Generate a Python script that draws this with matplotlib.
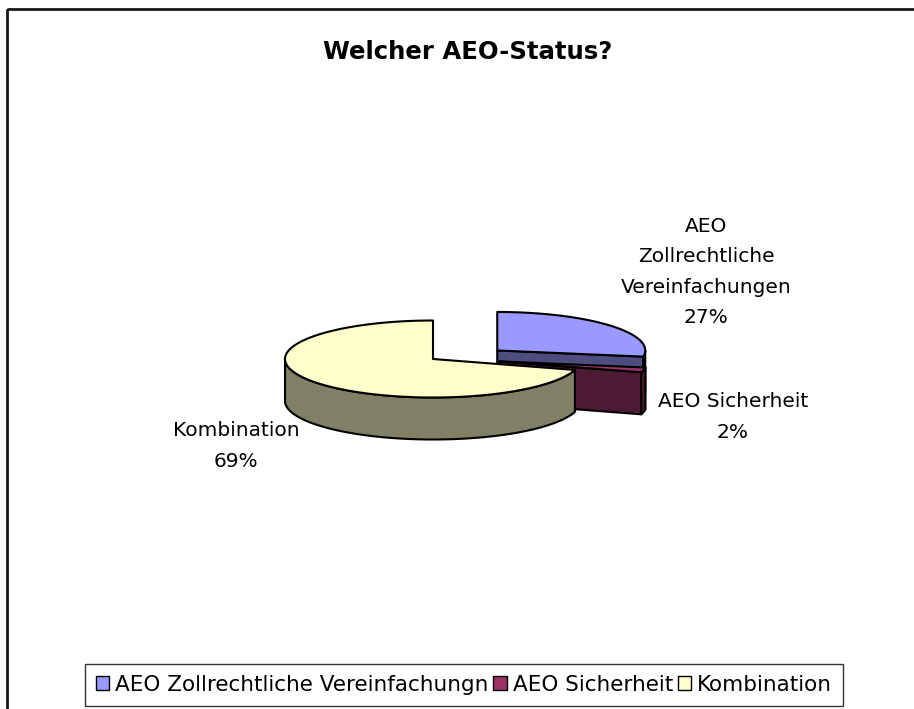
import textwrap
import numpy as np
import matplotlib
matplotlib.use("Agg")
import matplotlib.pyplot as plt
from matplotlib.patches import Polygon, Patch, Rectangle
from matplotlib.colors import to_rgb

# ---- data ----
categories = ["AEO Zollrechtliche Vereinfachungen", "AEO Sicherheit", "Kombination"]
legend_labels = ["AEO Zollrechtliche Vereinfachungn", "AEO Sicherheit", "Kombination"]
values = [27, 2, 69]
colors = ["#9999FF", "#993366", "#FFFFCC"]
explode = [0.57, 0.46, 0.0]
title = "Welcher AEO-Status?"

# ---- layout / style ----
W, H = 914, 709
FONT = "DejaVu Sans"
fig = plt.figure(figsize=(W / 100, H / 100), dpi=100)
ax = fig.add_axes([0, 0, 1, 1])
ax.set_xlim(0, W)
ax.set_ylim(H, 0)
ax.axis("off")

# chart-area border (open to the right and bottom, as in the reference)
ax.add_patch(Rectangle((6.5, 8.5), W + 50, H + 50, fill=False,
                       edgecolor="#1a1a1a", lw=2.0))

cx, cy, rx, ry, depth = 433, 359, 148, 38.5, 42
explode_vfactor = 0.6
EDGE = dict(edgecolor="black", lw=1.5, joinstyle="round")


def rim(c, t, dz=0.0):
    return np.column_stack([c[0] + rx * np.cos(t), c[1] - ry * np.sin(t) + dz])


def shade(col, f=0.5):
    r, g, b = to_rgb(col)
    return (r * f, g * f, b * f)


total = float(sum(values))
a = 90.0
slices = []
for v, col, e in zip(values, colors, explode):
    span = 360.0 * v / total
    a_end = a - span  # clockwise from 12 o'clock
    lo, hi = np.radians(a_end), np.radians(a)
    mid = 0.5 * (lo + hi)
    c = (cx + e * rx * np.cos(mid), cy - e * ry * explode_vfactor * np.sin(mid))
    slices.append((lo, hi, c, col))
    a = a_end

for lo, hi, c, col in slices:
    side = shade(col)
    # radial cut faces
    for ang, visible in ((lo, np.cos(lo) > 1e-6), (hi, np.cos(hi) < -1e-6)):
        if visible:
            p = rim(c, np.array([ang]))[0]
            poly = [c, p, (p[0], p[1] + depth), (c[0], c[1] + depth)]
            ax.add_patch(Polygon(poly, closed=True, facecolor=side, **EDGE))
    # outer (front) wall
    for k in range(-2, 2):
        f0, f1 = np.radians(-180 + 360 * k), np.radians(360 * k)
        s0, s1 = max(lo, f0), min(hi, f1)
        if s1 > s0:
            t = np.linspace(s0, s1, 120)
            top = rim(c, t)
            bot = rim(c, t[::-1], depth)
            ax.add_patch(Polygon(np.vstack([top, bot]), closed=True,
                                 facecolor=side, **EDGE))
    # top face
    t = np.linspace(lo, hi, 240)
    poly = np.vstack([[c], rim(c, t)])
    ax.add_patch(Polygon(poly, closed=True, facecolor=col, **EDGE))

# data labels
label_pos = [(706, 272), (733, 417), (236, 446)]
for cat, v, (x, y) in zip(categories, values, label_pos):
    ax.text(x, y, textwrap.fill(cat, 15) + f"\n{v}%", ha="center", va="center",
            fontsize=14.5, family=FONT, linespacing=1.77, color="black")

# title
ax.text(468, 52, title, ha="center", va="center", fontsize=17.6,
        fontweight="bold", family=FONT)

# legend
handles = [Patch(facecolor=c, edgecolor="black", lw=1.0) for c in colors]
leg = ax.legend(handles, legend_labels, loc="center",
                bbox_to_anchor=(464 / W, 1 - 685 / H), bbox_transform=fig.transFigure,
                ncol=3, frameon=True, fancybox=False, edgecolor="black",
                handlelength=0.62, handleheight=0.62, handletextpad=0.28,
                columnspacing=0.22, borderpad=0.5, borderaxespad=0,
                prop={"family": FONT, "size": 15.5})
leg.get_frame().set_linewidth(1.0)

fig.savefig("out.png", dpi=100)
